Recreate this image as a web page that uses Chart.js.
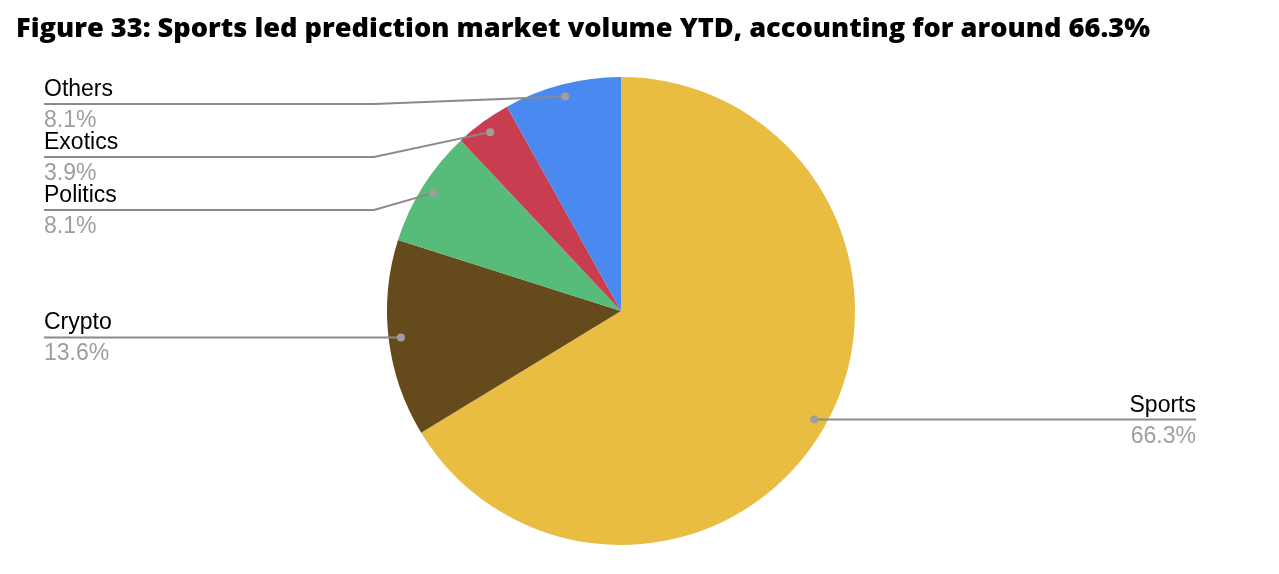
<!DOCTYPE html>
<html>
<head>
<meta charset="utf-8">
<script src="https://cdn.jsdelivr.net/npm/chart.js@4.4.1/dist/chart.umd.min.js"></script>
<style>
  html, body { margin: 0; padding: 0; background: #ffffff; }
  #wrap { position: relative; width: 1279px; height: 574px; }
</style>
</head>
<body>
<div id="wrap"><canvas id="c" width="1279" height="574"></canvas></div>
<script>
const titleText = "Figure 33: Sports led prediction market volume YTD, accounting for around 66.3%";
const categories = ["Sports", "Crypto", "Politics", "Exotics", "Others"];
const shares = [66.3, 13.6, 8.1, 3.9, 8.1];
const sliceColors = ["#E8BD42", "#654A1B", "#57BB7A", "#C83E50", "#4A89F0"];

const LABEL_FONT = '23px "Liberation Sans", Arial, sans-serif';
const TITLE_FONT = '800 26px "Open Sans", sans-serif';

const labelPlugin = {
  id: 'leaderLabels',
  afterDraw(chart) {
    const ctx = chart.ctx;
    ctx.save();
    ctx.fillStyle = '#000000';
    ctx.textBaseline = 'alphabetic';
    ctx.textAlign = 'left';
    ctx.font = TITLE_FONT;
    const w = ctx.measureText(titleText).width;
    const target = 1134;
    ctx.translate(16, 37);
    ctx.scale(target / w, 1);
    ctx.fillText(titleText, 0, 0);
    ctx.restore();

    const meta = chart.getDatasetMeta(0);
    const total = shares.reduce((a, b) => a + b, 0);
    const items = meta.data.map((arc, i) => {
      const p = arc.getProps(['x', 'y', 'startAngle', 'endAngle', 'outerRadius'], true);
      const mid = (p.startAngle + p.endAngle) / 2;
      const r = p.outerRadius * 0.947;
      return {
        i,
        dx: p.x + Math.cos(mid) * r,
        dy: p.y + Math.sin(mid) * r,
        left: Math.cos(mid) < 0
      };
    });
    const top = chart.chartArea.top;
    const leftX = 44, elbowX = 374, rightX = 1196, gap = 53;
    const left = items.filter(o => o.left).sort((a, b) => a.dy - b.dy);
    const right = items.filter(o => !o.left).sort((a, b) => a.dy - b.dy);
    let prev = top + 27 - gap;
    left.forEach(o => { o.ly = Math.max(o.dy, prev + gap); prev = o.ly; });
    prev = top + 27 - gap;
    right.forEach(o => { o.ly = Math.max(o.dy, prev + gap); prev = o.ly; });

    ctx.save();
    items.forEach(o => {
      ctx.strokeStyle = '#8a8a8a';
      ctx.lineWidth = 2;
      ctx.beginPath();
      if (o.left) {
        ctx.moveTo(leftX, o.ly);
        if (Math.abs(o.ly - o.dy) < 0.5) {
          ctx.lineTo(o.dx, o.dy);
        } else {
          ctx.lineTo(elbowX, o.ly);
          ctx.lineTo(o.dx, o.dy);
        }
      } else {
        ctx.moveTo(o.dx, o.ly);
        ctx.lineTo(rightX, o.ly);
      }
      ctx.stroke();
      ctx.fillStyle = '#9e9e9e';
      ctx.beginPath();
      ctx.arc(o.dx, o.dy, 4, 0, Math.PI * 2);
      ctx.fill();

      const pct = (shares[o.i] / total * 100).toFixed(1) + '%';
      ctx.font = LABEL_FONT;
      ctx.textBaseline = 'alphabetic';
      ctx.textAlign = o.left ? 'left' : 'right';
      const tx = o.left ? leftX : rightX;
      ctx.fillStyle = '#000000';
      ctx.fillText(categories[o.i], tx, o.ly - 8);
      ctx.fillStyle = '#9e9e9e';
      ctx.fillText(pct, tx, o.ly + 23);
    });
    ctx.restore();
  }
};

function build() {
  new Chart(document.getElementById('c'), {
    type: 'pie',
    data: {
      labels: categories,
      datasets: [{
        data: shares,
        backgroundColor: sliceColors,
        borderWidth: 0
      }]
    },
    options: {
      responsive: false,
      animation: false,
      layout: { padding: { top: 77, bottom: 29, left: 0, right: 37 } },
      plugins: {
        legend: { display: false },
        tooltip: { enabled: false },
        title: { display: false }
      }
    },
    plugins: [labelPlugin]
  });
}

Promise.all([
  document.fonts.load(LABEL_FONT),
  document.fonts.load(TITLE_FONT)
]).then(build, build);
</script>
</body>
</html>
